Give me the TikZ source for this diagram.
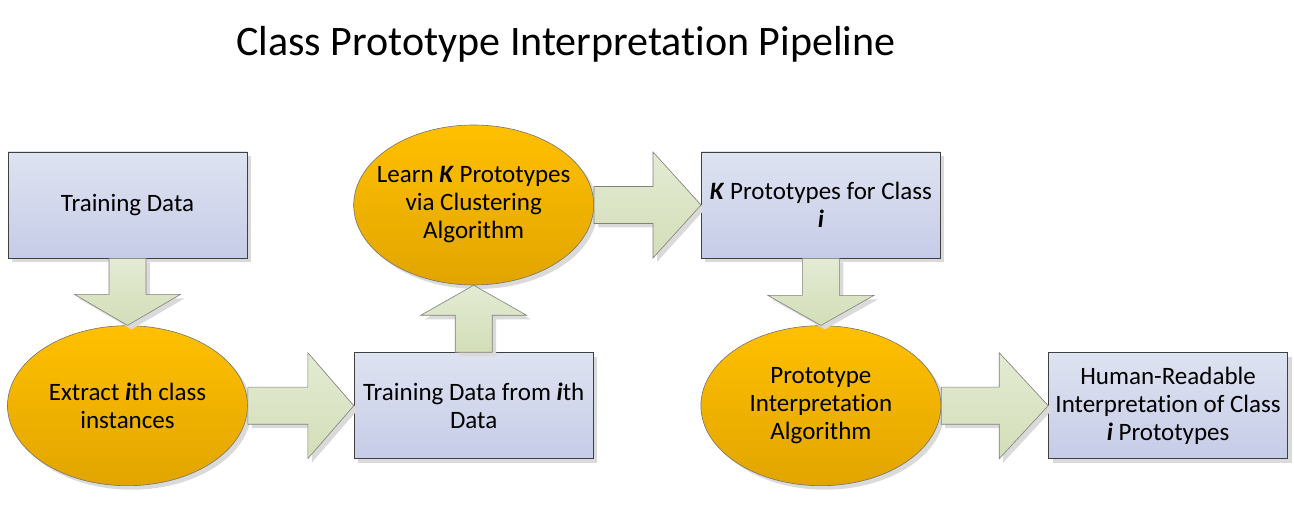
\documentclass[tikz,border=0pt]{standalone}
\usepackage{fontspec}
\setmainfont{Carlito}[Ligatures=NoCommon]
\usetikzlibrary{positioning,calc,shapes.geometric,shadows}
\definecolor{clBoxTop}{HTML}{DEE3F1}
\definecolor{clBoxBot}{HTML}{C6CCE7}
\definecolor{clProcTop}{HTML}{FFC000}
\definecolor{clProcBot}{HTML}{E2A500}
\definecolor{clFlowTop}{HTML}{E3EBD3}
\definecolor{clFlowBot}{HTML}{D3DEB8}
\definecolor{clShadow}{HTML}{DADADA}
\newcommand{\bodyfont}{\fontsize{25}{28}\selectfont}
\newcommand{\bi}[1]{\textbf{\textit{#1}}}
\tikzset{
  softshadow/.style={drop shadow={shadow xshift=4pt, shadow yshift=-4pt,
                     fill=clShadow, opacity=1}},
  datum/.style={rectangle, draw=black!75, line width=0.8pt, top color=clBoxTop,
                bottom color=clBoxBot, minimum width=239pt, minimum height=106pt,
                align=center, inner sep=4pt, font=\bodyfont, softshadow},
  proc/.style={ellipse, draw=black!55, line width=0.6pt, top color=clProcTop,
               bottom color=clProcBot, minimum width=240pt, minimum height=160pt,
               inner xsep=-40pt, inner ysep=0pt, align=center, font=\bodyfont, softshadow},
  flow/.style={draw=black!50, line width=0.6pt, top color=clFlowTop,
               bottom color=clFlowBot, softshadow},
}
% block arrow: from, tip, head length
\newcommand{\blockarrow}[3]{%
  \coordinate (hb) at ($(#2)!#3!(#1)$);
  \path[flow] ($(#1)!18.5pt!90:(#2)$) -- ($(hb)!18.5pt!-90:(#1)$)
    -- ($(hb)!53pt!-90:(#1)$) -- (#2) -- ($(hb)!53pt!90:(#1)$)
    -- ($(hb)!18.5pt!90:(#1)$) -- ($(#1)!18.5pt!-90:(#2)$) -- cycle;}
\begin{document}
\begin{tikzpicture}[x=1pt, y=1pt, node distance=67pt and 107pt]
  \useasboundingbox (0,0) rectangle (1294,512);
  \node[font=\fontsize{42}{48}\selectfont, anchor=base] (title) at (566,456)
    {Class Prototype Interpretation Pipeline};
  % top-left box, then zig-zag
  \node[datum] (train) at (127.5,307) {Training Data};
  \node[proc, below=of train] (extract) {Extract \bi{i}th class\\instances};
  \node[datum, right=106pt of extract] (subset) {Training Data from \bi{i}th\\Data};
  \node[proc, above=of subset] (learn) {Learn \bi{K} Prototypes\\via Clustering\\Algorithm};
  \node[datum, right=of learn] (protos) {\bi{K} Prototypes for Class\\\bi{i}};
  \node[proc, below=of protos] (interp) {Prototype\\Interpretation\\Algorithm};
  \node[datum, right=of interp] (readable) {Human-Readable\\Interpretation of Class\\\bi{i} Prototypes};
  % arrows
  \blockarrow{train.south}{extract.north}{31pt}
  \blockarrow{extract.east}{subset.west}{46pt}
  \blockarrow{subset.north}{learn.south}{30pt}
  \blockarrow{learn.east}{protos.west}{48pt}
  \blockarrow{protos.south}{interp.north}{30pt}
  \blockarrow{interp.east}{readable.west}{49pt}
\end{tikzpicture}
\end{document}
